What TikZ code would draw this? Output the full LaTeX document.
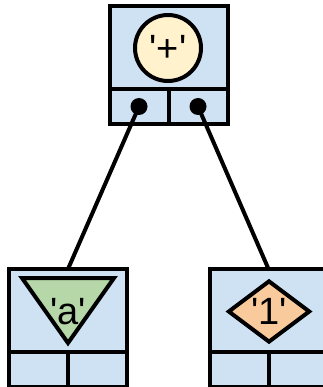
\documentclass[tikz,border=0pt]{standalone}
\usepackage{fontspec}
\newfontfamily\lbl{Liberation Sans}
\usepackage{tikz}
\usetikzlibrary{positioning, shapes.geometric}
\definecolor{cellblue}{HTML}{CFE2F3}
\definecolor{valyellow}{HTML}{FFF2CC}
\definecolor{valgreen}{HTML}{B6D7A8}
\definecolor{valorange}{HTML}{F9CB9C}

\begin{document}
\begin{tikzpicture} [x = 1pt, y = -1pt, line width = 4pt,
  cellbox/.style = {draw, fill = cellblue, minimum width = 118pt, minimum height = 83pt, inner sep = 0pt, outer sep = 0pt},
  slotbox/.style = {draw, fill = cellblue, minimum width = 59pt, minimum height = 35pt, inner sep = 0pt, outer sep = 0pt},
  ptr/.style = {circle, fill = black, minimum size = 17pt, inner sep = 0pt},
  val/.style = {inner sep = 0pt, font = \lbl\fontsize{38}{40}\selectfont}]
\useasboundingbox (0,0) rectangle (322,387);
\node[cellbox] (plus) at (168.5,47.5) {};
\node[slotbox, below right = 0pt of plus.south west] (plusl) {};
\node[slotbox, below left = 0pt of plus.south east] (plusr) {};
\node[val, draw, circle, fill = valyellow, minimum size = 66pt] (plusv) at (168,48) {'+'};
\node[cellbox] (a) at (68,310.5) {};
\node[slotbox, below right = 0pt of a.south west] (al) {};
\node[slotbox, below left = 0pt of a.south east] (ar) {};
\draw[fill = valgreen] (a.north) ++(-46,9) -- ++(92,0) -- ++(-46,65) -- cycle;
\node[val] (av) at (68,312) {'a'};
\node[cellbox] (one) at (268.5,310.5) {};
\node[slotbox, below right = 0pt of one.south west] (onel) {};
\node[slotbox, below left = 0pt of one.south east] (oner) {};
\node[val, draw, diamond, fill = valorange, minimum width = 82pt, minimum height = 62pt] (onev) at (269,311.5) {'1'};
\draw (plusl.center) -- (a.north);
\draw (plusr.center) -- (one.north);
\node[ptr] (plusld) at (plusl) {};
\node[ptr] (plusrd) at (plusr) {};
\end{tikzpicture}
\end{document}
